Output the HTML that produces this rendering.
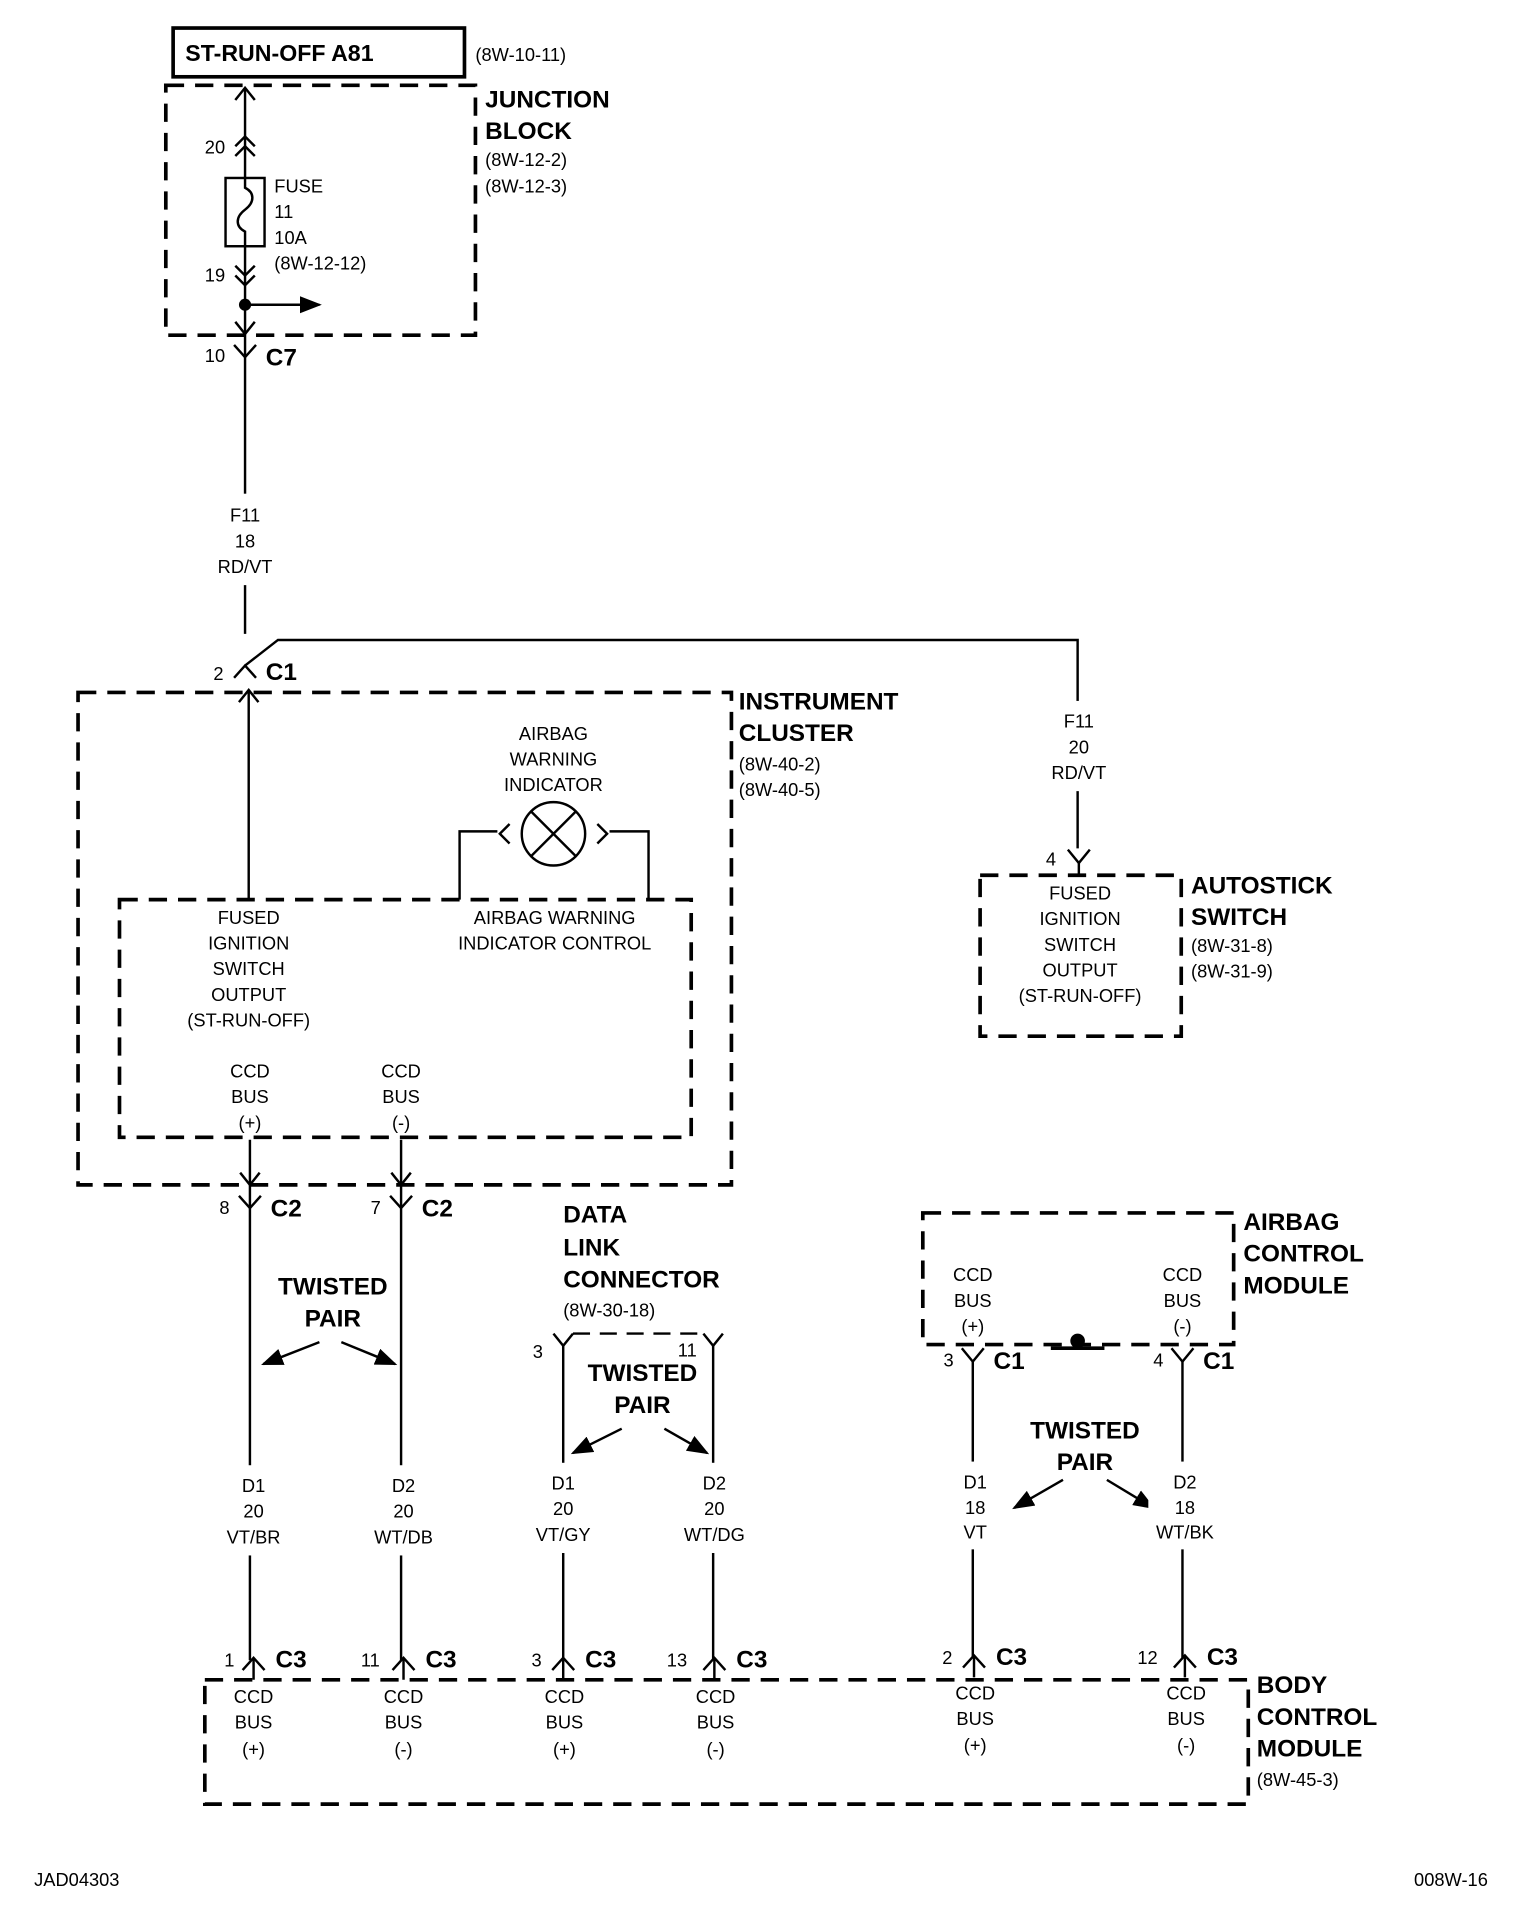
<!DOCTYPE html>
<html><head><meta charset="utf-8"><style>
html,body{margin:0;padding:0;background:#fff;}
svg{display:block;}
text{font-family:"Liberation Sans",sans-serif;fill:#000;font-size:15px;}
.b{font-weight:bold;font-size:20px;}
.c{text-anchor:middle;}
.d{fill:none;stroke:#000;stroke-width:3;stroke-dasharray:15 9;}
.w{fill:none;stroke:#000;stroke-width:2;}
.bg{fill:#fff;stroke:none;}
</style></head><body>
<svg width="1536" height="1912" viewBox="0 0 1260 1568.5" xmlns="http://www.w3.org/2000/svg">
<defs>
<marker id="ah2" markerWidth="18" markerHeight="14" refX="16" refY="7" orient="auto" markerUnits="userSpaceOnUse"><path d="M0,0 L18,7 L0,14 z" fill="#000"/></marker>
</defs>
<!-- top box -->
<rect x="142" y="23" width="239" height="40" fill="none" stroke="#000" stroke-width="3"/>
<text x="152" y="50" class="b" style="font-size:19px">ST-RUN-OFF A81</text>
<text x="390" y="50">(8W-10-11)</text>
<!-- junction block -->
<path class="d" d="M136,70 H390 V275 H136 Z"/>
<text x="398" y="88" class="b">JUNCTION</text>
<text x="398" y="114" class="b">BLOCK</text>
<text x="398" y="136">(8W-12-2)</text>
<text x="398" y="158">(8W-12-3)</text>
<line class="w" x1="201" y1="72" x2="201" y2="146"/>
<path class="w" d="M193,82 L201,72 L209,82"/>
<path class="w" d="M193,120 L201,112 L209,120 M193,128 L201,120 L209,128"/>
<text x="168" y="126">20</text>
<rect class="w" x="185" y="146" width="32" height="56"/>
<path class="w" d="M201,146 v8 c8,4 8,12 0,18 c-8,6 -8,14 0,18 v12"/>
<text x="225" y="158">FUSE</text>
<text x="225" y="179">11</text>
<text x="225" y="200">10A</text>
<text x="225" y="221">(8W-12-12)</text>
<line class="w" x1="201" y1="202" x2="201" y2="520"/>
<path class="w" d="M193,218 L201,226 L209,218 M193,226 L201,234 L209,226"/>
<text x="168" y="231">19</text>
<circle cx="201" cy="250" r="5"/>
<line x1="201" y1="250" x2="262" y2="250" stroke="#000" stroke-width="2" marker-end="url(#ah2)"/>
<path class="w" d="M193,264 L201,274 L209,264"/>
<path class="w" d="M192,283 L201,293 L210,283"/>
<text x="168" y="297">10</text>
<text x="218" y="300" class="b">C7</text>
<rect class="bg" x="170" y="405" width="62" height="75"/>
<text x="201" y="428" class="c">F11</text>
<text x="201" y="449" class="c">18</text>
<text x="201" y="470" class="c">RD/VT</text>
<!-- C1 -->
<path class="w" d="M192,556 L201,546 L210,556"/>
<path class="w" d="M201,546 L228,525 H884 V696"/>
<text x="175" y="558">2</text>
<text x="218" y="558" class="b">C1</text>
<!-- instrument cluster -->
<path class="d" d="M64,568 H600 V972 H64 Z"/>
<text x="606" y="582" class="b">INSTRUMENT</text>
<text x="606" y="608" class="b">CLUSTER</text>
<text x="606" y="632">(8W-40-2)</text>
<text x="606" y="653">(8W-40-5)</text>
<line class="w" x1="204" y1="566" x2="204" y2="738"/>
<path class="w" d="M196,576 L204,566 L212,576"/>
<path class="d" d="M98,738 H567 V933 H98 Z"/>
<text x="454" y="607" class="c">AIRBAG</text>
<text x="454" y="628" class="c">WARNING</text>
<text x="454" y="649" class="c">INDICATOR</text>
<circle cx="454" cy="684" r="26" class="w"/>
<path class="w" d="M436,666 L472,702 M472,666 L436,702"/>
<path class="w" d="M377,738 V682 H408 M418,676 L410,684 L418,692"/>
<path class="w" d="M532,738 V682 H500 M490,676 L498,684 L490,692"/>
<text x="204" y="758" class="c">FUSED</text>
<text x="204" y="779" class="c">IGNITION</text>
<text x="204" y="800" class="c">SWITCH</text>
<text x="204" y="821" class="c">OUTPUT</text>
<text x="204" y="842" class="c">(ST-RUN-OFF)</text>
<text x="455" y="758" class="c">AIRBAG WARNING</text>
<text x="455" y="779" class="c">INDICATOR CONTROL</text>
<text x="205" y="884" class="c">CCD</text>
<text x="205" y="905" class="c">BUS</text>
<text x="205" y="926" class="c">(+)</text>
<text x="329" y="884" class="c">CCD</text>
<text x="329" y="905" class="c">BUS</text>
<text x="329" y="926" class="c">(-)</text>
<!-- C2 -->
<line class="w" x1="205" y1="935" x2="205" y2="1362"/>
<line class="w" x1="329" y1="935" x2="329" y2="1362"/>
<path class="w" d="M197,962 L205,972 L213,962 M321,962 L329,972 L337,962"/>
<path class="w" d="M196,981 L205,991 L214,981 M320,981 L329,991 L338,981"/>
<text x="180" y="996">8</text><text x="222" y="998" class="b">C2</text>
<text x="304" y="996">7</text><text x="346" y="998" class="b">C2</text>
<text x="273" y="1062" class="b c">TWISTED</text>
<text x="273" y="1088" class="b c">PAIR</text>
<line x1="262" y1="1101" x2="216" y2="1119" stroke="#000" stroke-width="2" marker-end="url(#ah2)"/>
<line x1="280" y1="1101" x2="324" y2="1119" stroke="#000" stroke-width="2" marker-end="url(#ah2)"/>
<rect class="bg" x="178" y="1202" width="60" height="74"/>
<rect class="bg" x="301" y="1202" width="60" height="74"/>
<text x="208" y="1224" class="c">D1</text><text x="208" y="1245" class="c">20</text><text x="208" y="1266" class="c">VT/BR</text>
<text x="331" y="1224" class="c">D2</text><text x="331" y="1245" class="c">20</text><text x="331" y="1266" class="c">WT/DB</text>
<!-- data link -->
<text x="462" y="1003" class="b">DATA</text>
<text x="462" y="1030" class="b">LINK</text>
<text x="462" y="1056" class="b">CONNECTOR</text>
<text x="462" y="1080">(8W-30-18)</text>
<path class="w" d="M454,1094 L462,1104 L470,1094 M577,1094 L585,1104 L593,1094"/>
<path d="M470,1094 H577" stroke="#000" stroke-width="2" stroke-dasharray="14 8" fill="none"/>
<line class="w" x1="462" y1="1104" x2="462" y2="1362"/>
<line class="w" x1="585" y1="1104" x2="585" y2="1362"/>
<text x="437" y="1114">3</text><text x="556" y="1113">11</text>
<text x="527" y="1133" class="b c">TWISTED</text>
<text x="527" y="1159" class="b c">PAIR</text>
<line x1="510" y1="1172" x2="470" y2="1192" stroke="#000" stroke-width="2" marker-end="url(#ah2)"/>
<line x1="545" y1="1172" x2="580" y2="1192" stroke="#000" stroke-width="2" marker-end="url(#ah2)"/>
<rect class="bg" x="432" y="1200" width="60" height="74"/>
<rect class="bg" x="556" y="1200" width="60" height="74"/>
<text x="462" y="1222" class="c">D1</text><text x="462" y="1243" class="c">20</text><text x="462" y="1264" class="c">VT/GY</text>
<text x="586" y="1222" class="c">D2</text><text x="586" y="1243" class="c">20</text><text x="586" y="1264" class="c">WT/DG</text>
<!-- autostick -->
<rect class="bg" x="855" y="575" width="60" height="74"/>
<text x="885" y="597" class="c">F11</text><text x="885" y="618" class="c">20</text><text x="885" y="639" class="c">RD/VT</text>
<path class="w" d="M876,697 L885,708 L894,697"/>
<line class="w" x1="885" y1="708" x2="885" y2="718"/>
<text x="858" y="710">4</text>
<path class="d" d="M804,718 H969 V850 H804 Z"/>
<text x="886" y="738" class="c">FUSED</text>
<text x="886" y="759" class="c">IGNITION</text>
<text x="886" y="780" class="c">SWITCH</text>
<text x="886" y="801" class="c">OUTPUT</text>
<text x="886" y="822" class="c">(ST-RUN-OFF)</text>
<text x="977" y="733" class="b">AUTOSTICK</text>
<text x="977" y="759" class="b">SWITCH</text>
<text x="977" y="781">(8W-31-8)</text>
<text x="977" y="802">(8W-31-9)</text>
<!-- airbag control module -->
<path class="d" d="M757,995 H1012 V1103 H757 Z"/>
<text x="1020" y="1009" class="b">AIRBAG</text>
<text x="1020" y="1035" class="b">CONTROL</text>
<text x="1020" y="1061" class="b">MODULE</text>
<text x="798" y="1051" class="c">CCD</text><text x="798" y="1072" class="c">BUS</text><text x="798" y="1093" class="c">(+)</text>
<text x="970" y="1051" class="c">CCD</text><text x="970" y="1072" class="c">BUS</text><text x="970" y="1093" class="c">(-)</text>
<circle cx="884" cy="1100" r="6"/>
<line x1="862" y1="1106" x2="906" y2="1106" stroke="#000" stroke-width="3"/>
<path class="w" d="M789,1106 L798,1117 L807,1106 M961,1106 L970,1117 L979,1106"/>
<line class="w" x1="798" y1="1117" x2="798" y2="1360"/>
<line class="w" x1="970" y1="1117" x2="970" y2="1360"/>
<text x="774" y="1121">3</text><text x="815" y="1123" class="b">C1</text>
<text x="946" y="1121">4</text><text x="987" y="1123" class="b">C1</text>
<text x="890" y="1180" class="b c">TWISTED</text>
<text x="890" y="1206" class="b c">PAIR</text>
<line x1="872" y1="1214" x2="832" y2="1237" stroke="#000" stroke-width="2" marker-end="url(#ah2)"/>
<line x1="908" y1="1214" x2="946" y2="1237" stroke="#000" stroke-width="2" marker-end="url(#ah2)"/>
<rect class="bg" x="770" y="1199" width="60" height="72"/>
<rect class="bg" x="942" y="1199" width="60" height="72"/>
<text x="800" y="1221" class="c">D1</text><text x="800" y="1242" class="c">18</text><text x="800" y="1262" class="c">VT</text>
<text x="972" y="1221" class="c">D2</text><text x="972" y="1242" class="c">18</text><text x="972" y="1262" class="c">WT/BK</text>
<!-- BCM connectors -->
<path class="w" d="M199,1370 L208,1360 L217,1370 M322,1370 L331,1360 L340,1370 M453,1370 L462,1360 L471,1370 M577,1370 L586,1360 L595,1370 M790,1368 L799,1358 L808,1368 M963,1368 L972,1358 L981,1368"/>
<path class="w" d="M208,1360 V1378 M331,1360 V1378 M462,1360 V1378 M586,1360 V1378 M799,1358 V1376 M972,1358 V1376"/>
<text x="184" y="1367">1</text><text x="226" y="1368" class="b">C3</text>
<text x="296" y="1367">11</text><text x="349" y="1368" class="b">C3</text>
<text x="436" y="1367">3</text><text x="480" y="1368" class="b">C3</text>
<text x="547" y="1367">13</text><text x="604" y="1368" class="b">C3</text>
<text x="773" y="1365">2</text><text x="817" y="1366" class="b">C3</text>
<text x="933" y="1365">12</text><text x="990" y="1366" class="b">C3</text>
<path class="d" d="M168,1378 H1024 V1480 H168 Z"/>
<text x="208" y="1397" class="c">CCD</text><text x="208" y="1418" class="c">BUS</text><text x="208" y="1440" class="c">(+)</text>
<text x="331" y="1397" class="c">CCD</text><text x="331" y="1418" class="c">BUS</text><text x="331" y="1440" class="c">(-)</text>
<text x="463" y="1397" class="c">CCD</text><text x="463" y="1418" class="c">BUS</text><text x="463" y="1440" class="c">(+)</text>
<text x="587" y="1397" class="c">CCD</text><text x="587" y="1418" class="c">BUS</text><text x="587" y="1440" class="c">(-)</text>
<text x="800" y="1394" class="c">CCD</text><text x="800" y="1415" class="c">BUS</text><text x="800" y="1437" class="c">(+)</text>
<text x="973" y="1394" class="c">CCD</text><text x="973" y="1415" class="c">BUS</text><text x="973" y="1437" class="c">(-)</text>
<text x="1031" y="1389" class="b">BODY</text>
<text x="1031" y="1415" class="b">CONTROL</text>
<text x="1031" y="1441" class="b">MODULE</text>
<text x="1031" y="1465">(8W-45-3)</text>
<text x="28" y="1547">JAD04303</text>
<text x="1160" y="1547">008W-16</text>
</svg>
</body></html>
